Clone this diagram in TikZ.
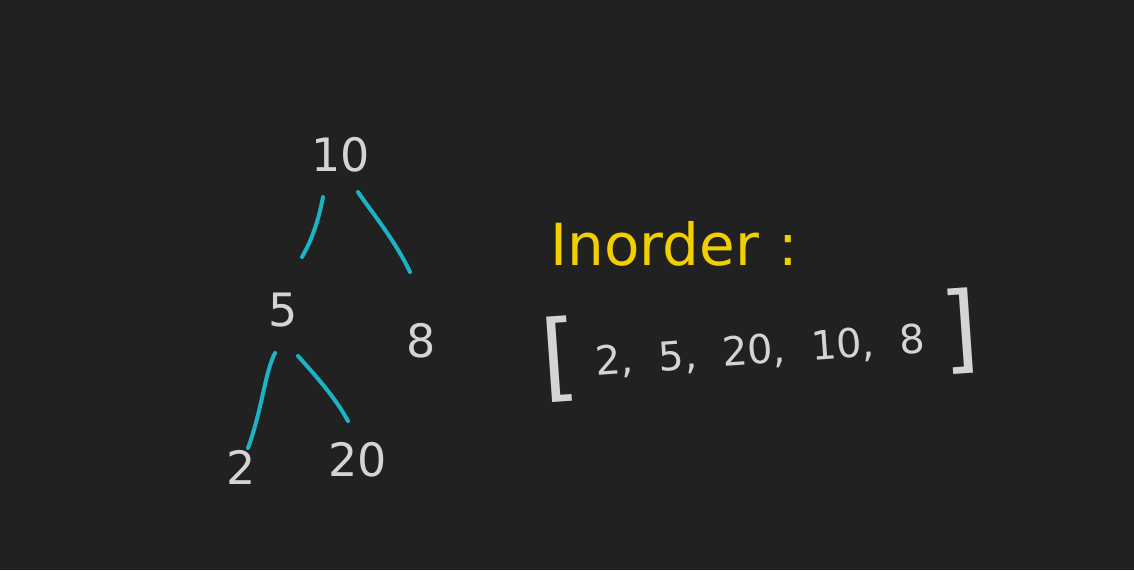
\documentclass[tikz,border=0pt]{standalone}
\usepackage{fontspec}
\setmainfont{DejaVu Sans}
\definecolor{bg}{HTML}{212121}
\definecolor{edgec}{HTML}{1CB4C4}
\definecolor{chalk}{HTML}{D4D4D4}
\definecolor{hl}{HTML}{F2D000}
\newcommand{\bigbr}[1]{{\fontsize{96}{100}\selectfont #1}}
\newcommand{\lifted}[1]{\raisebox{11pt}{#1}}
\begin{document}
\begin{tikzpicture}[x=1pt,y=-1pt,
  val/.style={text=chalk,inner sep=0pt,font=\fontsize{46}{52}\selectfont},
  edge/.style={draw=edgec,line width=4pt,line cap=round},
  title/.style={text=hl,inner sep=0pt,font=\fontsize{58}{64}\selectfont},
  listtext/.style={text=chalk,inner sep=0pt,font=\fontsize{40}{48}\selectfont}]
\path[fill=bg] (0,0) rectangle (1134,570);
\useasboundingbox (0,0) rectangle (1134,570);
% tree nodes
\node[val] (n10) at (341,155) {10};
\node[val] (n5) at (283,310) {5};
\node[val] (n8) at (421,341) {8};
\node[val] (n2) at (241,467) {2};
\node[val] (n20) at (358,460) {20};
% edge end coordinates
\coordinate (a1) at (323,197);
\coordinate (b1) at (302,257);
\coordinate (a2) at (358,192);
\coordinate (b2) at (410,272);
\coordinate (a3) at (275,353);
\coordinate (b3) at (248,448);
\coordinate (a4) at (298,356);
\coordinate (b4) at (348,421);
\draw[edge] (a1) .. controls (319,218) and (313,238) .. (b1);
\draw[edge] (a2) .. controls (370,210) and (395,240) .. (b2);
\draw[edge] (a3) .. controls (265,372) and (262,410) .. (b3);
\draw[edge] (a4) .. controls (315,375) and (335,397) .. (b4);
% right side
\node[title] (ino) at (674,244) {Inorder\,\,:};
\node[listtext,rotate=4] (lst) at (760,345)
  {\bigbr{[}\hspace{16pt}\lifted{2,\ \ 5,\ \ 20,\ \ 10,\ \ 8}\hspace{16pt}\bigbr{]}};
\end{tikzpicture}
\end{document}
